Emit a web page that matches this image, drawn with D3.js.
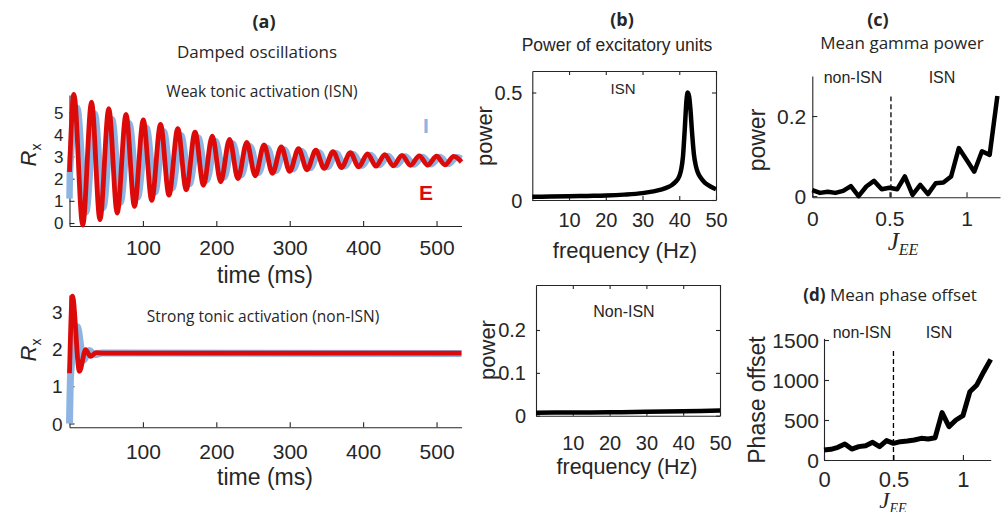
<!DOCTYPE html>
<html>
<head>
<meta charset="utf-8">
<script src="https://cdn.jsdelivr.net/npm/d3@7"></script>
<style>
  body { margin: 0; background: #fff; }
  svg  { display: block; }
  text { font-family: "Liberation Sans", Arial, sans-serif; fill: #262626; }
  .ttl { font-family: "Open Sans", "Liberation Sans", sans-serif; }
</style>
</head>
<body>
<svg id="fig" width="1003" height="512"></svg>
<script>
// ── Data ──────────────────────────────────────────────────────────
// (a) ISN: damped oscillation, extrema of the rates (time in ms)
const isnETime = [0, 6, 18, 30, 41.5, 53.5, 65, 77, 88.5, 100.5, 112, 124, 135.5, 147.5, 159, 171,
    182.5, 194.5, 206, 218, 229.5, 241.5, 253, 265, 276.5, 288.5, 300, 312, 323.5, 335.5, 347, 359,
    370.5, 382.5, 394, 406, 417.5, 429.5, 441, 453, 464.5, 476.5, 488, 500, 511.5, 523.5, 534];
const isnE = [2.3, 5.8, -0.1, 5.45, 0.15, 5.15, 0.45, 4.9, 0.75, 4.65, 1.02, 4.45, 1.26, 4.25, 1.5, 4.1,
    1.7, 3.92, 1.86, 3.77, 2.0, 3.63, 2.13, 3.52, 2.24, 3.43, 2.33, 3.35, 2.4, 3.28, 2.46, 3.22,
    2.5, 3.17, 2.53, 3.12, 2.56, 3.08, 2.58, 3.05, 2.6, 3.03, 2.61, 3.01, 2.62, 3.0, 2.75];
const isnITime = [0, 0.6, 10.5, 22.5, 34.5, 46, 58, 69.5, 81.5, 93, 105, 116.5, 128.5, 140, 152, 163.5,
    175.5, 187, 199, 210.5, 222.5, 234, 246, 257.5, 269.5, 281, 293, 304.5, 316.5, 328, 340, 351.5,
    363.5, 375, 387, 398.5, 410.5, 422, 434, 445.5, 457.5, 469, 481, 492.5, 504.5, 516, 528, 534];
const isnI = [1.1, 2.3, 5.2, 0.48, 4.92, 0.68, 4.68, 0.92, 4.48, 1.16, 4.28, 1.38, 4.12, 1.57, 3.96, 1.76,
    3.84, 1.92, 3.7, 2.05, 3.58, 2.16, 3.46, 2.26, 3.38, 2.35, 3.3, 2.42, 3.24, 2.48, 3.18, 2.53,
    3.14, 2.56, 3.1, 2.58, 3.06, 2.61, 3.02, 2.62, 3.0, 2.64, 2.98, 2.65, 2.97, 2.66, 2.96, 2.9];

// (a) non-ISN: fast settling
const nonETime = [0, 4, 13.5, 22, 28.5, 36, 45, 534];
const nonE     = [1.35, 3.42, 1.4, 1.98, 1.8, 1.9, 1.89, 1.89];
const nonITime = [0, 1.5, 10.5, 19, 27, 34, 44, 534];
const nonI     = [0, 1.3, 2.6, 1.7, 1.96, 1.85, 1.89, 1.88];

// (b) power spectra of excitatory units
const isnFreq  = [0, 5, 10, 15, 20, 25, 30, 33, 35, 37, 38, 39, 40, 40.5, 41, 41.5, 42, 42.3, 42.7,
    43, 43.5, 44, 44.5, 45, 46, 47, 48, 49, 50];
const isnPower = [0.015, 0.016, 0.017, 0.019, 0.021, 0.025, 0.032, 0.04, 0.048, 0.06, 0.07, 0.085, 0.11,
    0.14, 0.2, 0.33, 0.47, 0.5, 0.48, 0.43, 0.31, 0.21, 0.16, 0.13, 0.1, 0.08, 0.068, 0.058, 0.05];
const nonFreq  = [0, 10, 20, 30, 40, 50];
const nonPower = [0.007, 0.0075, 0.008, 0.009, 0.0105, 0.012];

// (c), (d) sweep over J_EE
const jee = [0, 0.05, 0.1, 0.15, 0.2, 0.25, 0.3, 0.35, 0.4, 0.45, 0.5, 0.55, 0.6, 0.65, 0.7, 0.75,
    0.8, 0.85, 0.9, 0.95, 1.0, 1.05, 1.1, 1.15, 1.2];
const gammaPower = [0.015, 0.008, 0.011, 0.008, 0.013, 0.025, 0.0, 0.024, 0.038, 0.017, 0.021, 0.017,
    0.049, 0.003, 0.028, 0.005, 0.032, 0.034, 0.049, 0.12, 0.091, 0.061, 0.112, 0.103, 0.25];
const phaseOffset = [125, 133, 158, 200, 137, 167, 179, 221, 167, 242, 208, 229, 237, 250, 271, 262,
    279, 592, 417, 500, 554, 854, 938, 1104, 1258];
const jBoundary = 0.51;

// tick values
const timeTicks = [100, 200, 300, 400, 500];
const isnRTicks = [0, 1, 2, 3, 4, 5];
const nonRTicks = [0, 1, 2, 3];
const freqTicks = [10, 20, 30, 40, 50];
const isnPTicks = [0, 0.5];
const nonPTicks = [0, 0.1, 0.2];
const jTicks    = [0, 0.5, 1];
const gammaTicks = [0, 0.2];
const phaseTicks = [0, 500, 1000, 1500];

// ── Setup ─────────────────────────────────────────────────────────
const AX = '#262626', RED = '#dd0a0a', BLUE = '#8db4e2';
const svg = d3.select('#fig');
const fmt = d => String(d);

const zip = (xs, ys) => xs.map((x, i) => [x, ys[i]]);

function styleAxis(sel, size) {
    sel.attr('font-family', null).attr('font-size', null);
    sel.select('.domain').attr('stroke', AX).attr('stroke-width', 1.1);
    sel.selectAll('.tick line').attr('stroke', AX).attr('stroke-width', 1.1);
    sel.selectAll('.tick text').attr('fill', AX).style('font-size', size + 'px');
    return sel;
}

// bottom + left axes with inward ticks; labels centred at given offsets
function axesBL(x, y, o) {
    const g = svg.append('g');
    g.append('g').attr('transform', `translate(0,${y.range()[0]})`)
        .call(d3.axisBottom(x).tickValues(o.xt).tickFormat(fmt).tickSizeInner(-o.tick).tickSizeOuter(0))
        .call(s => styleAxis(s, o.xs))
        .selectAll('.tick text').attr('y', o.xoff).attr('dy', '0.35em');
    g.append('g').attr('transform', `translate(${x.range()[0]},0)`)
        .call(d3.axisLeft(y).tickValues(o.yt).tickFormat(fmt).tickSizeInner(-o.tick).tickSizeOuter(0))
        .call(s => styleAxis(s, o.ys))
        .selectAll('.tick text').attr('x', -o.yoff).attr('dy', '0.35em');
    if (o.box) {
        g.append('g').attr('transform', `translate(0,${y.range()[1]})`)
            .call(d3.axisTop(x).tickValues(o.xt).tickFormat('').tickSizeInner(-o.tick).tickSizeOuter(0))
            .call(s => styleAxis(s, o.xs));
        g.append('g').attr('transform', `translate(${x.range()[1]},0)`)
            .call(d3.axisRight(y).tickValues(o.yt).tickFormat('').tickSizeInner(-o.tick).tickSizeOuter(0))
            .call(s => styleAxis(s, o.ys));
    }
    return g;
}

function curve(x, y, data, color, width, kind) {
    const line = d3.line().x(d => x(d[0])).y(d => y(d[1]))
        .curve(kind || d3.curveMonotoneX);
    svg.append('path').datum(data)
        .attr('d', line).attr('fill', 'none')
        .attr('stroke', color).attr('stroke-width', width)
        .attr('stroke-linejoin', 'round');
}

function label(x, y, str, size, o = {}) {
    const t = svg.append('text')
        .attr('x', x).attr('y', y).attr('dy', '0.35em')
        .attr('text-anchor', o.anchor || 'middle')
        .style('font-size', size + 'px');
    if (o.cls) t.attr('class', o.cls);
    if (o.bold) t.style('font-weight', 'bold');
    if (o.color) t.style('fill', o.color);
    if (o.rot) t.attr('transform', `rotate(-90,${x},${y})`);
    t.text(str);
    return t;
}

// R_x style label, rotated
function rxLabel(x, y) {
    const t = svg.append('text')
        .attr('x', x).attr('y', y).attr('dy', '0.35em')
        .attr('text-anchor', 'middle')
        .attr('transform', `rotate(-90,${x},${y})`);
    t.append('tspan').style('font-style', 'italic').style('font-size', '22px').text('R');
    t.append('tspan').style('font-size', '14px').attr('dy', '5').text('x');
}

// J_EE label in serif italic
function jLabel(x, y, size) {
    const t = svg.append('text')
        .attr('x', x).attr('y', y).attr('dy', '0.35em')
        .attr('text-anchor', 'middle')
        .style('font-family', '"Liberation Serif", "DejaVu Serif", serif')
        .style('font-style', 'italic');
    t.append('tspan').style('font-size', size + 'px').text('J');
    t.append('tspan').style('font-size', Math.round(size * 0.62) + 'px').attr('dy', '5').text('EE');
}

// ── (a) time courses ──────────────────────────────────────────────
const xT = d3.scaleLinear().domain([0, 534]).range([69.5, 461.5]);

const yIsn = d3.scaleLinear().domain([-0.135, 5.77]).range([226, 95]);
axesBL(xT, yIsn, { xt: timeTicks, yt: isnRTicks, tick: 5, xs: 21, ys: 17, xoff: 22, yoff: 6 });
curve(xT, yIsn, zip(isnITime, isnI), BLUE, 6.5);
curve(xT, yIsn, zip(isnETime, isnE), RED, 4.8);

const yNon = d3.scaleLinear().domain([-0.1, 3.45]).range([427.2, 295]);
axesBL(xT, yNon, { xt: timeTicks, yt: nonRTicks, tick: 5, xs: 21, ys: 19, xoff: 24, yoff: 7 });
curve(xT, yNon, zip(nonITime, nonI), BLUE, 7);
curve(xT, yNon, zip(nonETime, nonE), RED, 4.8);

label(264, 22, '(a)', 18, { bold: true, cls: 'ttl' });
label(257, 52, 'Damped oscillations', 17, { cls: 'ttl' });
label(262, 92, 'Weak tonic activation (ISN)', 15.5, { cls: 'ttl' });
label(263, 317, 'Strong tonic activation (non-ISN)', 15.5, { cls: 'ttl' });
label(426, 126, 'I', 21, { bold: true, color: BLUE });
label(426, 193, 'E', 21, { bold: true, color: RED });
label(265, 275, 'time (ms)', 23);
label(265, 477, 'time (ms)', 23);
rxLabel(30, 155);
rxLabel(30, 350);

// ── (b) power spectra ─────────────────────────────────────────────
const xF1 = d3.scaleLinear().domain([0, 50]).range([532.3, 716]);
const yP1 = d3.scaleLinear().domain([0, 0.6]).range([200, 71]);
axesBL(xF1, yP1, { xt: freqTicks, yt: isnPTicks, tick: 4, xs: 20, ys: 20, xoff: 20, yoff: 10, box: true });
curve(xF1, yP1, zip(isnFreq, isnPower), '#000', 4.5);

const xF2 = d3.scaleLinear().domain([0, 50]).range([536, 720]);
const yP2 = d3.scaleLinear().domain([0, 0.305]).range([415.7, 285]);
axesBL(xF2, yP2, { xt: freqTicks, yt: nonPTicks, tick: 4, xs: 20, ys: 20, xoff: 27, yoff: 10, box: true });
curve(xF2, yP2, zip(nonFreq, nonPower), '#000', 4.5);

label(622, 20, '(b)', 18, { bold: true, cls: 'ttl' });
label(617, 45, 'Power of excitatory units', 17.5);
label(623, 89, 'ISN', 15);
label(624, 311, 'Non-ISN', 16);
label(625, 250, 'frequency (Hz)', 22);
label(627, 466, 'frequency (Hz)', 21.5);
label(484, 136, 'power', 22, { rot: true });
label(487, 350, 'power', 22, { rot: true });

// ── (c) mean gamma power ──────────────────────────────────────────
const xJc = d3.scaleLinear().domain([0, 1.217]).range([812.3, 1000]);
const yG  = d3.scaleLinear().domain([-0.003, 0.3]).range([197.3, 76]);
axesBL(xJc, yG, { xt: jTicks, yt: gammaTicks, tick: 5, xs: 21, ys: 21, xoff: 21, yoff: 6 });
svg.append('line')
    .attr('x1', xJc(jBoundary)).attr('x2', xJc(jBoundary))
    .attr('y1', yG(-0.003)).attr('y2', 96.5)
    .attr('stroke', '#000').attr('stroke-width', 1.3).attr('stroke-dasharray', '5,3');
curve(xJc, yG, zip(jee, gammaPower), '#000', 4.5, d3.curveLinear);

label(878, 20, '(c)', 18, { bold: true, cls: 'ttl' });
label(902, 43, 'Mean gamma power', 17, { cls: 'ttl' });
label(853, 77, 'non-ISN', 16);
label(942, 77, 'ISN', 16);
label(757, 140, 'power', 23, { rot: true });
jLabel(903, 244, 25);

// ── (d) mean phase offset ─────────────────────────────────────────
const xJd = d3.scaleLinear().domain([0, 1.2]).range([824, 990.7]);
const yPh = d3.scaleLinear().domain([0, 1520]).range([460, 338.4]);
axesBL(xJd, yPh, { xt: jTicks, yt: phaseTicks, tick: 5, xs: 22, ys: 21, xoff: 19, yoff: 5 });
svg.append('line')
    .attr('x1', xJd(0.5)).attr('x2', xJd(0.5))
    .attr('y1', yPh(0)).attr('y2', 350)
    .attr('stroke', '#000').attr('stroke-width', 1.3).attr('stroke-dasharray', '5,3');
curve(xJd, yPh, zip(jee, phaseOffset), '#000', 5, d3.curveLinear);

const dt = svg.append('text').attr('class', 'ttl')
    .attr('x', 890).attr('y', 295).attr('dy', '0.35em')
    .attr('text-anchor', 'middle').style('font-size', '17px');
dt.append('tspan').style('font-weight', 'bold').text('(d)');
dt.append('tspan').text(' Mean phase offset');
label(862, 332, 'non-ISN', 16);
label(939, 332, 'ISN', 16);
label(757, 400, 'Phase offset', 23, { rot: true });
jLabel(893, 502, 23);
</script>
</body>
</html>
